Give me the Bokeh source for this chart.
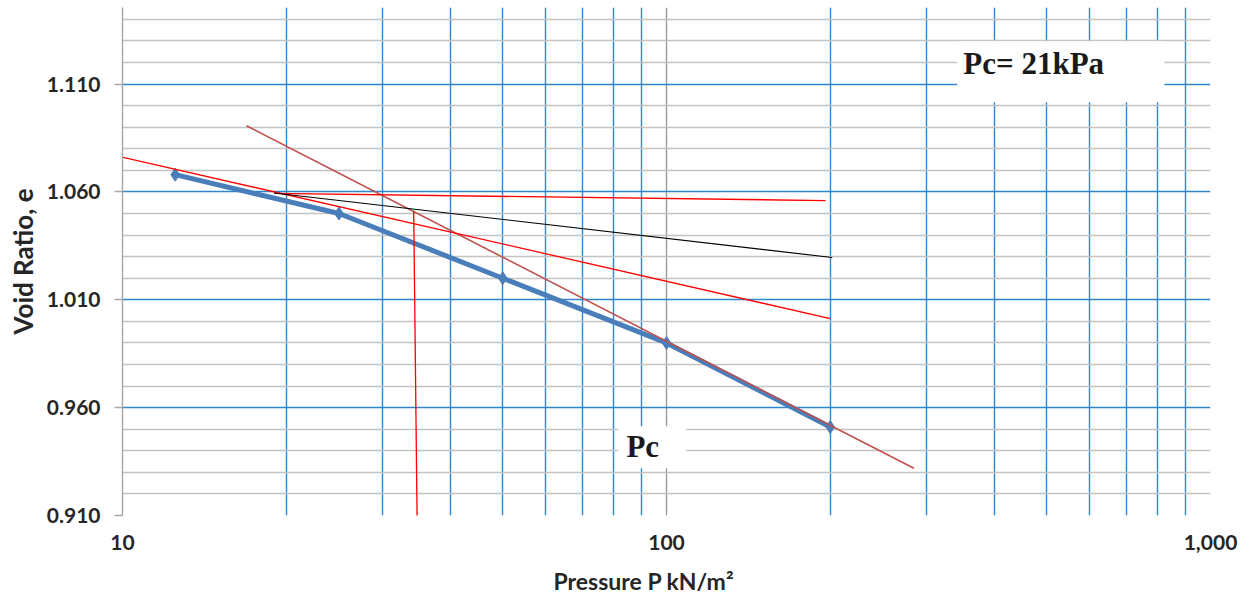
from bokeh.plotting import figure
from bokeh.models import Range1d, FixedTicker, Label, BoxAnnotation, Title
from bokeh.embed import file_html
from bokeh.resources import INLINE

# ---- data ----
PRESSURE = [12.5, 25, 50, 100, 200]
VOID_RATIO = [1.068, 1.050, 1.020, 0.990, 0.951]

# construction lines (Casagrande method)
CC_P = [16.9, 285.0]
CC_E = [1.0907, 0.9319]
TANGENT_P = [9.55, 200.0]
TANGENT_E = [1.0772, 1.0013]
HORIZ_P = [19.0, 196.0]
HORIZ_E = [1.0593, 1.0560]
BISECT_P = [19.0, 201.7]
BISECT_E = [1.0595, 1.0296]
PC_P = [34.3, 34.8]
PC_E = [1.0512, 0.9077]

# ticks
X_TICKS = [10, 100, 1000]
X_TICK_LABELS = ["10", "100", "1,000"]
X_MINOR = [20, 30, 40, 50, 60, 70, 80, 90, 200, 300, 400, 500, 600, 700, 800, 900]
Y_TICKS = [0.910, 0.960, 1.010, 1.060, 1.110]
Y_TICK_LABELS = ["0.910", "0.960", "1.010", "1.060", "1.110"]
Y_MINOR = [0.92, 0.93, 0.94, 0.95, 0.97, 0.98, 0.99, 1.00, 1.02, 1.03, 1.04, 1.05,
           1.07, 1.08, 1.09, 1.10, 1.12, 1.13, 1.14]

X_TITLE = "Pressure P kN/m\u00b2"
Y_TITLE = "Void Ratio, e"

BLUE_GRID = "#2F86CF"
GRAY_GRID = "#C3C3C3"

p = figure(width=1259, height=609, x_axis_type="log",
           x_range=Range1d(10, 1000), y_range=Range1d(0.910, 1.1455),
           output_backend="svg", toolbar_location=None,
           min_border_left=122, min_border_right=49, min_border_top=7, min_border_bottom=94,
           background_fill_color="white", border_fill_color="white")
p.outline_line_color = None

# grids
p.xaxis.ticker = FixedTicker(ticks=X_TICKS, minor_ticks=X_MINOR)
p.yaxis.ticker = FixedTicker(ticks=Y_TICKS, minor_ticks=Y_MINOR)
p.xgrid.grid_line_color = "#9C9C9C"
p.xgrid.grid_line_width = 1.4
p.xgrid.minor_grid_line_color = BLUE_GRID
p.xgrid.minor_grid_line_width = 1.4
p.ygrid.grid_line_color = BLUE_GRID
p.ygrid.grid_line_width = 1.4
p.ygrid.minor_grid_line_color = GRAY_GRID
p.ygrid.minor_grid_line_width = 1.4
p.ygrid.level = "underlay"
p.xgrid.level = "underlay"

# axes
p.xaxis.major_label_overrides = dict(zip(X_TICKS, X_TICK_LABELS))
p.yaxis.major_label_overrides = dict(zip(Y_TICKS, Y_TICK_LABELS))
for ax in (p.xaxis, p.yaxis):
    ax.major_label_text_font = "Lato"
    ax.major_label_text_font_style = "bold"
    ax.major_label_text_font_size = "21px"
    ax.major_label_text_color = "#262626"
    ax.axis_label_text_font = "Lato"
    ax.axis_label_text_font_style = "bold"
    ax.axis_label_text_color = "#262626"
    ax.minor_tick_out = 0
    ax.minor_tick_in = 0
    ax.major_tick_in = 0

p.xaxis.axis_line_color = None
p.xaxis.major_tick_out = 0
p.xaxis.major_label_standoff = 19

p.yaxis.axis_line_color = "#A6A6A6"
p.yaxis.axis_line_width = 1.4
p.yaxis.major_tick_line_color = "#A6A6A6"
p.yaxis.major_tick_line_width = 1.4
p.yaxis.major_tick_out = 8
p.yaxis.major_label_standoff = 14
p.yaxis.axis_label = Y_TITLE
p.yaxis.axis_label_text_font_size = "26px"
p.yaxis.axis_label_standoff = 5

# x-axis title, slightly left of centre as in the reference
p.add_layout(Title(text=X_TITLE, align="left", offset=431, standoff=24,
                   text_font="Lato", text_font_style="bold", text_font_size="23px",
                   text_color="#262626"), "below")

# curve
p.line(PRESSURE, VOID_RATIO, line_width=5, line_color="#4A7EBB")
p.scatter(PRESSURE, VOID_RATIO, marker="diamond", size=13,
          fill_color="#4A7EBB", line_color="#4A7EBB")

# construction lines
p.line(CC_P, CC_E, line_color="#C0504D", line_width=1.6)
p.line(TANGENT_P, TANGENT_E, line_color="#FF0000", line_width=1.3)
p.line(HORIZ_P, HORIZ_E, line_color="#FF0000", line_width=1.3)
p.line(BISECT_P, BISECT_E, line_color="#000000", line_width=1.1)
p.line(PC_P, PC_E, line_color="#FF0000", line_width=1.3)

# text boxes
p.add_layout(BoxAnnotation(left=342.2, right=823.0, bottom=1.1016, top=1.1298,
                           fill_color="white", fill_alpha=1.0, line_color=None))
p.add_layout(Label(x=351.2, y=1.1194, text="Pc= 21kPa", text_font="Liberation Serif",
                   text_font_style="bold", text_font_size="31px", text_color="#1A1A1A",
                   text_align="left", text_baseline="alphabetic"))
p.add_layout(BoxAnnotation(left=81.6, right=108.8, bottom=0.9319, top=0.9514,
                           fill_color="white", fill_alpha=1.0, line_color=None))
p.add_layout(Label(x=84.4, y=0.9418, text="Pc", text_font="Liberation Serif",
                   text_font_style="bold", text_font_size="31px", text_color="#1A1A1A",
                   text_align="left", text_baseline="alphabetic"))

open("out.html", "w").write(file_html(p, INLINE))
